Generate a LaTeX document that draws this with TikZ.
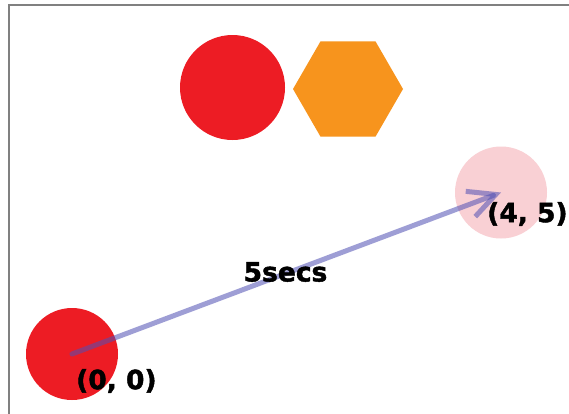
\documentclass[tikz,border=0pt]{standalone}
\usepackage{fontspec}
\setmainfont{DejaVu Sans}
\newfontfamily\lblfont{DejaVu Sans Bold}[FakeBold=1.6]
\usetikzlibrary{shapes.geometric,arrows.meta}
\definecolor{redfill}{HTML}{ED1C24}
\definecolor{orangefill}{HTML}{F7941D}
\definecolor{pinkfill}{HTML}{F9D0D4}
\definecolor{arrowcol}{RGB}{80,80,180}
\definecolor{framecol}{HTML}{808080}
\tikzset{
  dot/.style={circle, inner sep=0pt, draw=none, fill=#1},
  lbl/.style={font=\lblfont\fontsize{26.5}{30}\selectfont, inner sep=0pt, text=black},
  move/.style={line width=5pt, draw=arrowcol, draw opacity=0.55, line cap=round,
    -{Straight Barb[length=27pt, width=27pt, line width=5pt]}},
}
\begin{document}
\begin{tikzpicture}[x=1pt, y=-1pt]
\useasboundingbox (0,0) rectangle (569,413);
\clip (0,0) rectangle (569,413);
\fill[white] (0,0) rectangle (569,413);
\draw[framecol, line width=2pt] (9,5) rectangle (640,480);
\node[dot=redfill, minimum size=105pt] (topc) at (232.5,87.5) {};
\node[regular polygon, regular polygon sides=6, fill=orangefill, draw=none, inner sep=0pt, minimum size=110pt] (hex) at (348,89) {};
\node[dot=pinkfill, minimum size=92pt] (goal) at (501,192.5) {};
\node[dot=redfill, minimum size=92pt] (start) at (72,354) {};
\draw[move] (start.center) -- (goal.center);
\node[lbl] (lt) at (285.5,272) {5secs};
\node[lbl, anchor=west] (l0) at (76,381) {(0, 0)};
\node[lbl, anchor=west] (l1) at (487,214) {(4, 5)};
\end{tikzpicture}
\end{document}
